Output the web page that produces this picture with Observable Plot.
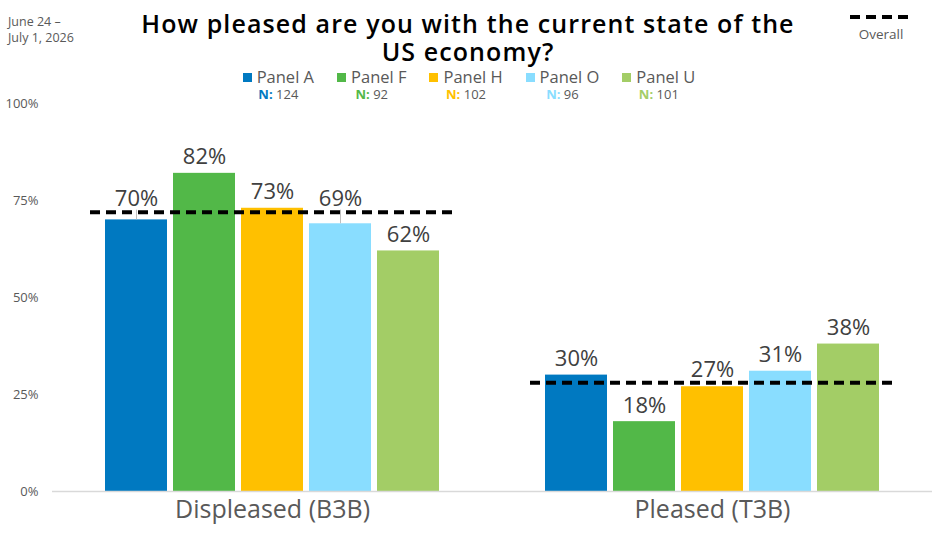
<!DOCTYPE html>
<html>
<head>
<meta charset="utf-8">
<script src="https://cdn.jsdelivr.net/npm/d3@7"></script>
<script src="https://cdn.jsdelivr.net/npm/@observablehq/plot@0.6"></script>
<style>
  body { margin: 0; background: #fff; font-family: "Open Sans", sans-serif; }
  #wrap { position: relative; width: 936px; height: 538px; overflow: hidden; background: #fff; }
  #header { position: absolute; left: 0; top: 0; width: 936px; height: 100px; z-index: 2; }
  #date { position: absolute; left: 8px; top: 14px; font-size: 12.5px; line-height: 16px; color: #595959; }
  #title1, #title2 { position: absolute; left: 0; width: 936px; text-align: center; font-size: 25px; line-height: 27px; font-weight: 600; color: #000; letter-spacing: 1.1px; }
  #title1 { top: 10px; }
  #title2 { top: 38px; }
  #overall { position: absolute; left: 848px; top: 12px; width: 66px; text-align: center; font-size: 13.5px; color: #595959; }
  #legend { position: absolute; left: 0; width: 936px; top: 67px; display: flex; justify-content: center; gap: 23px; padding-left: 2px; box-sizing: border-box; }
  .item { display: flex; flex-direction: column; align-items: center; }
  .lab { font-size: 16.5px; line-height: 20px; color: #595959; }
  .sw { display: inline-block; width: 9px; height: 9px; margin-right: 5px; vertical-align: 1px; }
  .n { font-size: 13px; line-height: 15px; color: #595959; }
  .n b { font-weight: 700; }
  #chart { position: absolute; left: 0; top: 95px; z-index: 1; }
</style>
</head>
<body>
<div id="wrap">
  <div id="header">
    <div id="date">June 24 –<br>July 1, 2026</div>
    <div id="title1">How pleased are you with the current state of the</div>
    <div id="title2">US economy?</div>
    <div id="overall"><svg width="62" height="10" style="display:block;margin:0 auto 3px auto"><line x1="0" y1="5" x2="62" y2="5" stroke="#000" stroke-width="4" stroke-dasharray="10,6"></line></svg>Overall</div>
    <div id="legend"></div>
  </div>
  <div id="chart"></div>
</div>
<script>
const groups = ["Displeased (B3B)", "Pleased (T3B)"];
const panels = ["Panel A", "Panel F", "Panel H", "Panel O", "Panel U"];
const panelN = [124, 92, 102, 96, 101];
const colors = ["#0079C1", "#52B848", "#FFC000", "#89DDFF", "#A3CD66"];
const displeased = [0.70, 0.82, 0.73, 0.69, 0.62];
const pleased = [0.30, 0.18, 0.27, 0.31, 0.38];
const overall = [0.72, 0.28];
const yTicks = [0, 0.25, 0.5, 0.75, 1];

const data = [];
panels.forEach((p, i) => {
  data.push({group: groups[0], panel: p, value: displeased[i], overall: overall[0]});
  data.push({group: groups[1], panel: p, value: pleased[i], overall: overall[1]});
});
const overallData = groups.map((g, i) => ({group: g, value: overall[i]}));

// label position: above the bar, lifted above the overall line when they would collide
const naturalY = d => d.value + 0.041;
const labelY = d => (d.value < d.overall && d.value > d.overall - 0.06)
  ? Math.max(naturalY(d), d.overall + 0.033)
  : naturalY(d);
const lifted = data.filter(d => labelY(d) - naturalY(d) > 0.005);

// legend
const legend = document.getElementById("legend");
panels.forEach((p, i) => {
  const it = document.createElement("div");
  it.className = "item";
  it.innerHTML = `<div class="lab"><span class="sw" style="background:${colors[i]}"></span>${p}</div>` +
    `<div class="n"><b style="color:${colors[i]}">N:</b> ${panelN[i]}</div>`;
  legend.appendChild(it);
});

const chart = Plot.plot({
  width: 936,
  height: 443,
  marginTop: 8,
  marginBottom: 47,
  marginLeft: 52,
  marginRight: 4,
  style: {fontFamily: "Open Sans, sans-serif", background: "transparent"},
  fx: {domain: groups, padding: 0, label: null},
  x: {domain: panels, paddingInner: 0.095, paddingOuter: 0.76, axis: null},
  y: {domain: [0, 1], axis: null},
  color: {domain: panels, range: colors},
  marks: [
    Plot.axisY({ticks: yTicks, tickFormat: d => Math.round(d * 100) + "%", tickSize: 0, tickPadding: 14, fontSize: 13, fill: "#595959", label: null}),
    Plot.axisFx({anchor: "bottom", tickSize: 0, tickPadding: 9, fontSize: 25, fill: "#595959", label: null}),
    Plot.barY(data, {fx: "group", x: "panel", y: "value", fill: "panel"}),
    Plot.ruleY([0], {stroke: "#d9d9d9", strokeWidth: 1.5}),
    Plot.ruleX(lifted, {fx: "group", x: "panel", y1: "value", y2: d => labelY(d) - 0.028, stroke: "#bfbfbf", strokeWidth: 1}),
    Plot.text(data, {fx: "group", x: "panel", y: labelY, text: d => Math.round(d.value * 100) + "%", lineAnchor: "middle", fontSize: 22, fill: "#404040"}),
    Plot.ruleY(overallData, {fx: "group", y: "value", stroke: "#000", strokeWidth: 4, strokeDasharray: "10,6", insetLeft: 38, insetRight: 40})
  ]
});
document.getElementById("chart").appendChild(chart);
</script>
</body>
</html>
